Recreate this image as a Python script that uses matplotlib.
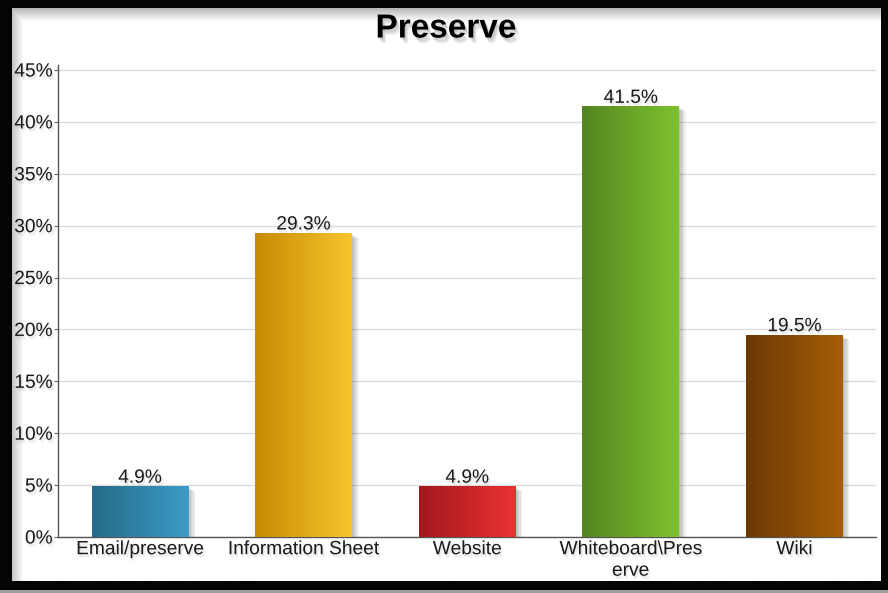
import numpy as np
import matplotlib.pyplot as plt
from matplotlib import patheffects as pe
from matplotlib.colors import LinearSegmentedColormap

plt.rcParams['font.family'] = ['Liberation Sans', 'DejaVu Sans']

categories = ['Email/preserve', 'Information Sheet', 'Website', 'Whiteboard\\Pres\nerve', 'Wiki']
values = [4.9, 29.3, 4.9, 41.5, 19.5]
left_colors = ['#256a87', '#c68b04', '#a3181e', '#548621', '#6b3905']
right_colors = ['#3b9cc6', '#f8c42c', '#ea3232', '#7ec12f', '#a65d06']
y_ticks = [0, 5, 10, 15, 20, 25, 30, 35, 40, 45]

W, H = 888, 593
fig = plt.figure(figsize=(W / 100, H / 100), dpi=100)

# black frame with a soft inner shadow, drawn as a background picture
frame = np.full((H, W), 0.02)
inner = np.ones((581 - 8, 880 - 12))
top_shade = np.linspace(0.72, 1.0, 14)
left_shade = np.linspace(0.78, 1.0, 12)
inner[:14, :] = np.minimum(inner[:14, :], top_shade[:, None])
inner[:, :12] = np.minimum(inner[:, :12], left_shade[None, :])
frame[8:581, 12:880] = inner
frame[590:, :] = 0.62
bg = fig.add_axes([0, 0, 1, 1])
bg.imshow(frame, cmap='gray', vmin=0, vmax=1, extent=[0, W, H, 0], aspect='auto')
bg.axis('off')

ax = fig.add_axes([58 / W, 1 - 537 / H, 818 / W, (537 - 64.8) / H])
ax.patch.set_alpha(0)


def soft_shadow(dx, dy, n, alpha, color='#555555'):
    effects = []
    for k in range(1, n + 1):
        effects.append(pe.SimplePatchShadow(offset=(dx * k / n, dy * k / n),
                                            shadow_rgbFace=color, alpha=alpha))
    return effects


txt_shadow = soft_shadow(1.5, -2.5, 3, 0.08, '#666666') + [pe.Normal()]

x = np.arange(len(categories))
width = 0.59
bars = ax.bar(x, values, width, color='none', zorder=2)
for i, b in enumerate(bars):
    b.set_path_effects(soft_shadow(5, -3.5, 5, 0.09))
    cmap = LinearSegmentedColormap.from_list('g%d' % i, [left_colors[i], right_colors[i]])
    grad = np.linspace(0, 1, 100)[None, :]
    im = ax.imshow(grad, cmap=cmap, aspect='auto', zorder=3,
                   extent=[x[i] - width / 2, x[i] + width / 2, 0, values[i]])
    im.set_clip_path(b)
    ax.text(x[i], values[i] - 0.05, f'{values[i]}%', ha='center', va='bottom',
            fontsize=13.8, color='#1a1a1a', zorder=4, path_effects=txt_shadow)

ax.set_xlim(-0.5, len(categories) - 0.5)
ax.set_ylim(0, 45.5)
ax.set_yticks(y_ticks)
ax.set_yticklabels([f'{t}%' for t in y_ticks])
ax.set_xticks(x)
ax.set_xticklabels(categories, linespacing=1.35)
for lab in ax.get_xticklabels() + ax.get_yticklabels():
    lab.set_path_effects(txt_shadow)
ax.tick_params(axis='y', length=3, pad=1, labelsize=13.8, color='#666666', labelcolor='#1a1a1a')
ax.tick_params(axis='x', length=0, pad=3, labelsize=13.8, labelcolor='#1a1a1a')
ax.grid(axis='y', color='#dcdcdc', lw=1, zorder=0)
ax.set_axisbelow(True)
for s in ['top', 'right']:
    ax.spines[s].set_visible(False)
for s in ['left', 'bottom']:
    ax.spines[s].set_color('#555555')
    ax.spines[s].set_linewidth(1)

fig.text(446 / W, 1 - 29 / H, 'Preserve', ha='center', va='center', fontsize=24,
         fontweight='bold', color='black',
         path_effects=soft_shadow(2.5, -4, 4, 0.1, '#555555') + [pe.Normal()])

fig.savefig('out.png', dpi=100)
